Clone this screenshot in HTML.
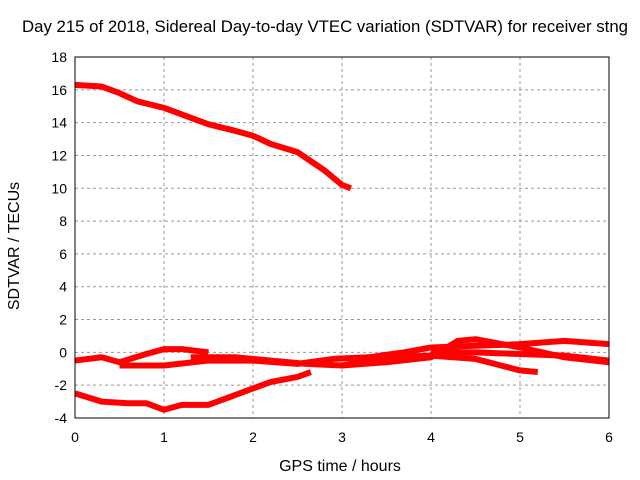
<!DOCTYPE html>
<html><head><meta charset="utf-8"><style>
body{margin:0;background:#fff}
svg{display:block;font-family:"Liberation Sans",sans-serif;font-size:14px}
</style></head><body>
<svg id="chart" width="640" height="480" xmlns="http://www.w3.org/2000/svg">
<text x="325" y="32" text-anchor="middle" style="font-size:16.5px" textLength="606" lengthAdjust="spacingAndGlyphs">Day 215 of 2018, Sidereal Day-to-day VTEC variation (SDTVAR) for receiver stng</text>
<g id="grid"></g><g id="series"></g><g id="axes"></g>
<text x="340" y="471" text-anchor="middle" style="font-size:16px">GPS time / hours</text>
<text transform="translate(19,246) rotate(-90)" text-anchor="middle" style="font-size:16px">SDTVAR / TECUs</text>
</svg>
<script>
const xTicks=[0,1,2,3,4,5,6];
const yTicks=[-4,-2,0,2,4,6,8,10,12,14,16,18];
const s1x=[0,0.3,0.5,0.7,1.0,1.2,1.5,1.8,2.0,2.2,2.5,2.8,3.0,3.1];
const s1y=[16.3,16.2,15.8,15.3,14.9,14.5,13.9,13.5,13.2,12.7,12.2,11.1,10.2,10.0];
const s2x=[0,0.3,0.6,0.8,1.0,1.2,1.5,1.7,2.0,2.2,2.5,2.65];
const s2y=[-2.5,-3.0,-3.1,-3.1,-3.5,-3.2,-3.2,-2.8,-2.2,-1.8,-1.5,-1.2];
const s3x=[0,0.3,0.5,0.8,1.0,1.2,1.5];
const s3y=[-0.5,-0.3,-0.6,-0.1,0.2,0.2,0.0];
const s4x=[0.5,1.0,1.5,2.0,2.5,2.9,3.3,3.7,4.0,4.5,5.0,5.5,6.0];
const s4y=[-0.8,-0.8,-0.5,-0.5,-0.7,-0.4,-0.3,0.0,0.3,0.4,0.5,0.7,0.5];
const s5x=[1.3,1.8,2.2,2.6,3.0,3.5,4.0,4.3,4.5,5.0,5.5,6.0];
const s5y=[-0.3,-0.3,-0.5,-0.7,-0.8,-0.6,-0.3,0.7,0.8,0.3,-0.3,-0.6];
const s6x=[3.0,3.5,4.0,4.5,5.0,5.2];
const s6y=[-0.8,-0.3,-0.2,-0.4,-1.1,-1.2];
const s7x=[4.0,4.5,5.0,5.5,6.0];
const s7y=[0.0,0.0,-0.1,-0.2,-0.5];
const L=75,R=609,T=57,B=418;
const X=v=>L+(v-0)/6*(R-L), Y=v=>B-(v+4)/22*(B-T);
const NS="http://www.w3.org/2000/svg";
function mk(p,t,a){const e=document.createElementNS(NS,t);for(const k in a)e.setAttribute(k,a[k]);p.appendChild(e);return e;}
const g=document.getElementById('grid'),ax=document.getElementById('axes'),sg=document.getElementById('series');
xTicks.forEach(v=>{
 if(v>0&&v<6){const l=mk(g,'line',{x1:X(v),x2:X(v),y1:T,y2:B,stroke:'#999','stroke-dasharray':'3,3'});
 
 }
 const t=mk(ax,'text',{x:X(v),y:B+24,'text-anchor':'middle'});t.textContent=v;
 
 
});
yTicks.forEach(v=>{
 if(v>-4&&v<18){const l=mk(g,'line',{x1:L,x2:R,y1:Y(v),y2:Y(v),stroke:'#999','stroke-dasharray':'3,3'});
 
 }
 const t=mk(ax,'text',{x:L-8,y:Y(v)+5,'text-anchor':'end'});t.textContent=v;
 
 
});
const fr=mk(ax,'rect',{x:L,y:T,width:R-L,height:B-T,fill:'none',stroke:'#000'});


[[s1x,s1y],[s2x,s2y],[s3x,s3y],[s4x,s4y],[s5x,s5y],[s6x,s6y],[s7x,s7y]].forEach((s,i)=>{
 const d=s[0].map((x,j)=>(j?'L':'M')+X(x)+','+Y(s[1][j])).join('');
 const p=mk(sg,'path',{d:d,fill:'none',stroke:'#f00','stroke-width':6,'stroke-linejoin':'round'});
 
 
});
</script>
</body></html>
